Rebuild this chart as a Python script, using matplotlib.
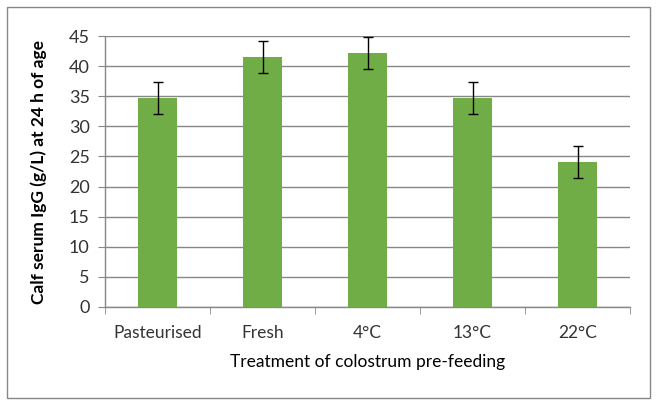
import numpy as np
from matplotlib import pyplot as plt
from matplotlib.patches import Rectangle

treatments = ['Pasteurised', 'Fresh', '4°C', '13°C', '22°C']
igg = [34.7, 41.5, 42.2, 34.7, 24.1]
igg_err = [2.65, 2.65, 2.6, 2.65, 2.6]

plt.rcParams['font.family'] = ['Lato', 'DejaVu Sans']
grey = '#878787'
green = '#70AD47'

fig = plt.figure(figsize=(6.58, 4.05), dpi=100)
ax = fig.add_axes([0.1596, 0.242, 0.798, 0.669])

x = np.arange(len(treatments))
ax.bar(x, igg, width=0.375, color=green, zorder=3)
ax.errorbar(x, igg, yerr=igg_err, fmt='none', ecolor='black', elinewidth=1,
            capsize=3.5, capthick=1, zorder=4)

ax.set_xlim(-0.5, len(treatments) - 0.5)
ax.set_ylim(0, 45)
ax.set_yticks(range(0, 46, 5))
ax.yaxis.grid(True, color=grey, linewidth=1, zorder=0)
ax.set_axisbelow(True)

# category labels centred, tick marks at boundaries
ax.set_xticks(x)
ax.set_xticklabels(treatments)
ax.tick_params(axis='x', length=0, pad=13, labelsize=12.5, labelcolor='#333333')
ax.set_xticks(np.arange(-0.5, len(treatments), 1), minor=True)
ax.tick_params(axis='x', which='minor', length=5, color=grey, direction='out')
ax.tick_params(axis='y', length=5, color=grey, pad=6, labelsize=13, labelcolor='#333333')

for s in ['top', 'right']:
    ax.spines[s].set_visible(False)
for s in ['left', 'bottom']:
    ax.spines[s].set_color(grey)
    ax.spines[s].set_linewidth(1)

ax.set_xlabel('Treatment of colostrum pre-feeding', fontsize=12.5, labelpad=9, color='black')
ax.set_ylabel('Calf serum IgG (g/L) at 24 h of age', fontsize=12.5, fontweight='bold',
              labelpad=16, color='black')

# outer chart border
fig.patches.append(Rectangle((7 / 658, 7 / 405), 643 / 658, 391 / 405,
                             transform=fig.transFigure, fill=False,
                             edgecolor=grey, linewidth=1))

fig.savefig('out.png', dpi=100)
